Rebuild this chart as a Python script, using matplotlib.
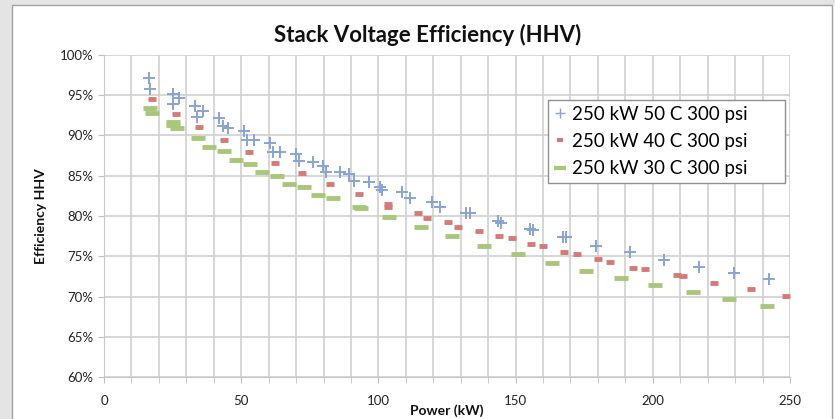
import matplotlib
matplotlib.use("Agg")
import matplotlib.pyplot as plt
from matplotlib.patches import Rectangle
from matplotlib.lines import Line2D
from matplotlib.ticker import MultipleLocator, FuncFormatter

plt.rcParams['font.family'] = ['Lato', 'DejaVu Sans']

title = "Stack Voltage Efficiency (HHV)"
x_label = "Power (kW)"
y_label = "Efficiency HHV"
series_names = ["250 kW 50 C 300 psi", "250 kW 40 C 300 psi", "250 kW 30 C 300 psi"]

p50 = [16.4, 16.8, 25.1, 27.3, 25.1, 33.2, 36.1, 33.9, 41.9, 43.4, 45.2, 51.0, 52.1, 54.7,
       60.5, 61.6, 64.1, 70.0, 71.1, 76.2, 79.8, 80.9, 86.0, 89.3, 91.1, 96.6, 100.6, 101.3,
       108.6, 111.5, 119.5, 122.4, 131.9, 133.4, 143.6, 144.7, 155.2, 156.3, 167.3, 168.4,
       179.3, 191.7, 204.1, 216.8, 229.6, 242.3]
e50 = [97.1, 95.8, 95.2, 94.7, 93.9, 93.7, 93.0, 92.3, 92.2, 91.2, 90.9, 90.6, 89.4, 89.4,
       89.1, 88.0, 88.0, 87.7, 86.8, 86.7, 86.2, 85.5, 85.5, 85.2, 84.3, 84.2, 83.6, 83.2,
       83.0, 82.2, 81.7, 81.1, 80.4, 80.4, 79.4, 79.1, 78.4, 78.3, 77.4, 77.4,
       76.3, 75.5, 74.5, 73.7, 72.9, 72.2]

p40 = [17.5, 26.2, 34.6, 43.7, 52.8, 62.3, 72.2, 82.4, 92.9, 103.5, 103.5, 114.4, 117.7,
       125.4, 129.0, 136.7, 143.9, 148.7, 155.6, 160.0, 167.6, 172.4, 180.0, 184.4, 192.8,
       197.2, 208.8, 211.0, 222.3, 235.8, 248.5]
e40 = [94.5, 92.7, 91.1, 89.4, 87.9, 86.6, 85.3, 84.0, 82.7, 81.5, 81.1, 80.4, 79.8,
       79.3, 78.6, 78.1, 77.5, 77.3, 76.5, 76.3, 75.5, 75.3, 74.7, 74.3, 73.5,
       73.4, 72.7, 72.5, 71.7, 70.9, 70.1]

p30 = [16.8, 17.5, 25.1, 25.1, 26.6, 34.3, 38.3, 43.7, 48.1, 53.2, 57.6, 63.0, 67.4, 72.9,
       78.0, 83.5, 92.9, 93.7, 103.9, 115.5, 126.8, 138.5, 150.9, 163.3, 175.7, 188.4,
       200.8, 214.7, 227.8, 241.6]
e30 = [93.4, 92.8, 91.7, 91.3, 90.9, 89.7, 88.6, 88.1, 87.0, 86.5, 85.5, 85.0, 84.0, 83.6,
       82.6, 82.2, 81.1, 81.0, 79.9, 78.6, 77.5, 76.3, 75.3, 74.2, 73.2, 72.3,
       71.4, 70.6, 69.7, 68.8]

c50, c40, c30 = '#88a4d4', '#d47a78', '#a9c77a'

fig = plt.figure(figsize=(8.35, 4.19), dpi=100, facecolor='white')
fig.patches.append(Rectangle((0, 0), 12/835, 1, transform=fig.transFigure,
                             facecolor='#e4e4e4', edgecolor='none', zorder=0))
fig.patches.append(Rectangle((0, 1 - 5/419), 1, 5/419, transform=fig.transFigure,
                             facecolor='#e4e4e4', edgecolor='none', zorder=0))
fig.patches.append(Rectangle((12/835, -0.01), (832-12)/835, 1 - 5/419 + 0.01,
                             transform=fig.transFigure, facecolor='none',
                             edgecolor='#a0a0a0', linewidth=1.0, zorder=1))

ax = fig.add_axes([104/835, 1 - 377/419, (790-104)/835, (377-55)/419])
ax.set_facecolor('white')

ax.plot(p50, e50, linestyle='none', marker='+', markersize=9, markeredgewidth=1.4,
        color=c50, zorder=4)
ax.plot(p40, e40, linestyle='none', marker='_', markersize=6, markeredgewidth=3.5,
        color=c40, zorder=3)
ax.plot(p30, e30, linestyle='none', marker='_', markersize=10, markeredgewidth=3.5,
        color=c30, zorder=2)

ax.set_xlim(0, 250)
ax.set_ylim(60, 100)
ax.xaxis.set_major_locator(MultipleLocator(50))
ax.xaxis.set_minor_locator(MultipleLocator(10))
ax.yaxis.set_major_locator(MultipleLocator(5))
ax.yaxis.set_major_formatter(FuncFormatter(lambda v, p: f"{v:.0f}%"))
ax.grid(True, which='both', axis='x', color='#d0d0d0', linewidth=1.2)
ax.grid(True, which='major', axis='y', color='#d0d0d0', linewidth=1.2)
ax.set_axisbelow(True)
for s in ['top', 'right']:
    ax.spines[s].set_visible(False)
ax.spines['left'].set_color('#c8c8c8')
ax.spines['bottom'].set_color('#c8c8c8')
ax.tick_params(axis='both', which='both', colors='#c0c0c0', labelcolor='#222222',
               labelsize=9.5, length=4)
ax.tick_params(axis='x', which='major', pad=9)

fig.text(428/835, 1 - 35/419, title, fontsize=16, fontweight='bold', color='#111111',
         ha='center', va='center')
ax.set_xlabel(x_label, fontsize=10, fontweight='bold', labelpad=-2, color='#111111')
ax.set_ylabel(y_label, fontsize=10, fontweight='bold', labelpad=9, color='#111111')

handles = [
    Line2D([], [], linestyle='none', marker='+', markersize=7, markeredgewidth=1.0, color=c50),
    Line2D([], [], linestyle='none', marker='_', markersize=4, markeredgewidth=3.0, color=c40),
    Line2D([], [], linestyle='none', marker='_', markersize=8, markeredgewidth=3.0, color=c30),
]
lx0 = (548 - 104) / 686
lw = (785 - 548) / 686
ltop = (377 - 100) / 322
lh = (183 - 100) / 322
leg = ax.legend(handles, series_names, loc='upper left',
                bbox_to_anchor=(lx0, ltop - lh, lw, lh), mode='expand',
                fontsize=13.5, frameon=True, fancybox=False, edgecolor='#909090',
                framealpha=1, handlelength=0.7, handletextpad=0.3, borderpad=0.3,
                labelspacing=0.55, borderaxespad=0)
leg.get_frame().set_linewidth(1.0)

fig.savefig('out.png', dpi=100, facecolor='white')
